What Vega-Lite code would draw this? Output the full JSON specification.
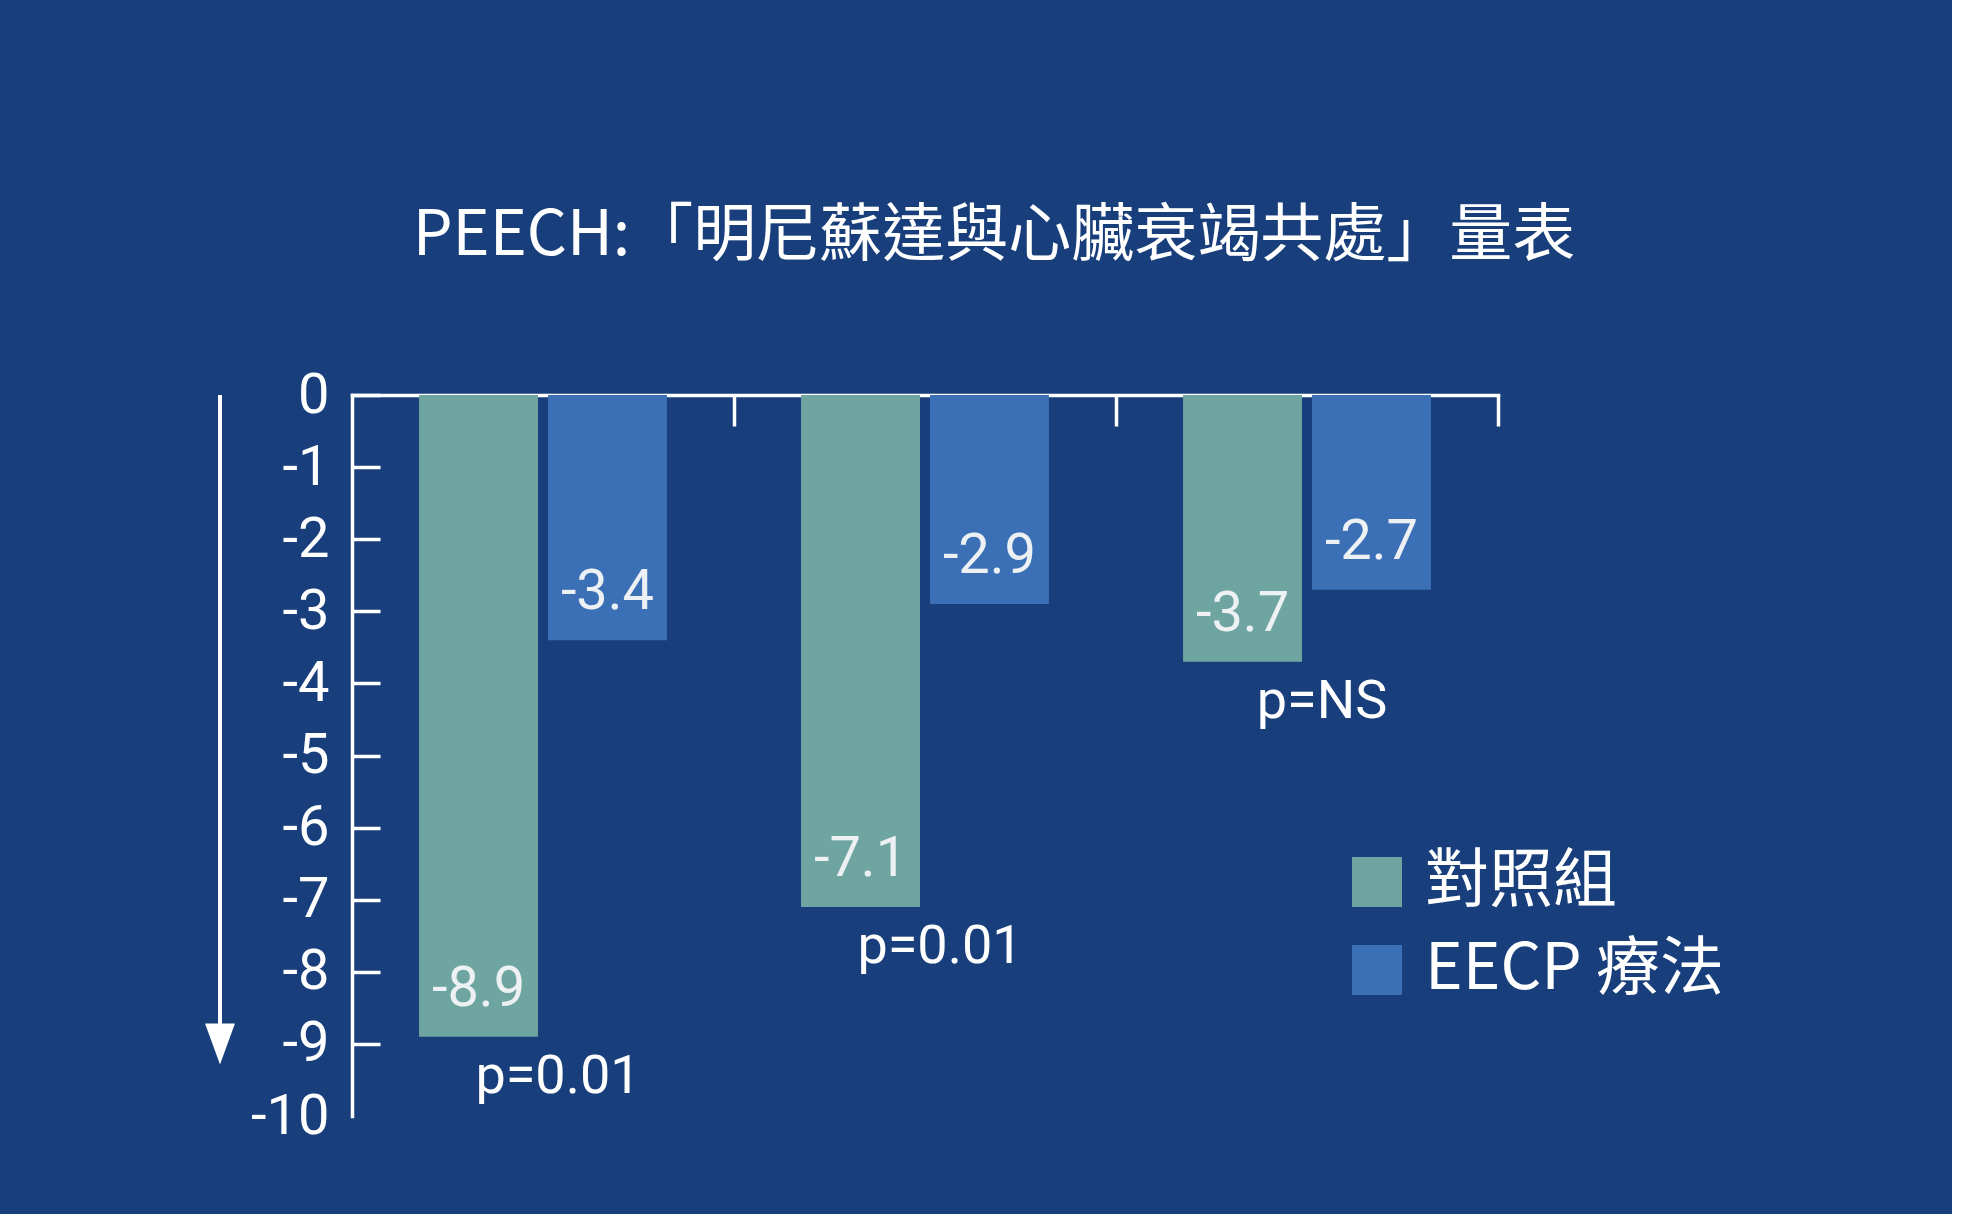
{
  "$schema": "https://vega.github.io/schema/vega-lite/v6.json",
  "background": "#183f7b",
  "padding": {"left": 205, "top": 205, "right": 227, "bottom": 73},
  "autosize": {"type": "pad"},
  "title": {
    "text": "PEECH:「明尼蘇達與心臟衰竭共處」量表",
    "font": "Noto Sans CJK TC",
    "fontSize": 63,
    "fontWeight": "normal",
    "color": "#ffffff",
    "anchor": "middle",
    "baseline": "alphabetic",
    "offset": 49,
    "dx": 29
  },
  "datasets": {
    "bars": [
      {"group": "A", "series": "對照組", "value": -8.9, "p": "p=0.01"},
      {"group": "A", "series": "EECP 療法", "value": -3.4, "p": "p=0.01"},
      {"group": "B", "series": "對照組", "value": -7.1, "p": "p=0.01"},
      {"group": "B", "series": "EECP 療法", "value": -2.9, "p": "p=0.01"},
      {"group": "C", "series": "對照組", "value": -3.7, "p": "p=NS"},
      {"group": "C", "series": "EECP 療法", "value": -2.7, "p": "p=NS"}
    ],
    "arrow": [{"pos": "a", "start": 0, "end": -9}]
  },
  "spacing": 117,
  "bounds": "flush",
  "resolve": {"scale": {"color": "independent"}, "legend": {"color": "independent"}},
  "hconcat": [
    {
      "width": 30,
      "height": 721,
      "data": {"name": "arrow"},
      "layer": [
        {
          "mark": {"type": "rule", "color": "#ffffff", "strokeWidth": 4},
          "encoding": {
            "x": {"field": "pos", "type": "nominal", "axis": null, "scale": {"paddingInner": 0, "paddingOuter": 0}},
            "y": {"field": "start", "type": "quantitative", "axis": null, "scale": {"domain": [-10, 0], "nice": false, "zero": false}},
            "y2": {"field": "end"}
          }
        },
        {
          "mark": {"type": "point", "shape": "M-0.73,-1L0.73,-1L0,1Z", "filled": true, "color": "#ffffff", "opacity": 1, "size": 1681, "strokeWidth": 0},
          "encoding": {
            "x": {"field": "pos", "type": "nominal", "axis": null},
            "y": {"field": "end", "type": "quantitative", "axis": null}
          }
        }
      ]
    },
    {
      "width": 1146,
      "height": 721,
      "data": {"name": "bars"},
      "encoding": {
        "x": {
          "field": "group",
          "type": "nominal",
          "scale": {"paddingInner": 0, "paddingOuter": 0},
          "axis": {
            "orient": "top",
            "labels": false,
            "title": null,
            "grid": false,
            "domainColor": "#ffffff",
            "domainWidth": 3.5,
            "domainCap": "square",
            "tickColor": "#ffffff",
            "tickWidth": 3.5,
            "tickSize": -31,
            "bandPosition": 1
          }
        },
        "y": {
          "field": "value",
          "type": "quantitative",
          "stack": null,
          "scale": {"domain": [-10, 0], "nice": false, "zero": false},
          "axis": {
            "orient": "left",
            "values": [0, -1, -2, -3, -4, -5, -6, -7, -8, -9, -10],
            "labelExpr": "'' + datum.value",
            "labelFont": "Roboto",
            "labelFontSize": 56,
            "labelColor": "#ffffff",
            "labelPadding": 51,
            "labelAlign": "right",
            "labelBaseline": "middle",
            "tickSize": -28,
            "tickWidth": 3.5,
            "tickColor": "#ffffff",
            "tickOpacity": {"condition": {"test": "datum.value === -10", "value": 0}, "value": 1},
            "domainColor": "#ffffff",
            "domainWidth": 3.5,
            "domainCap": "square",
            "title": null,
            "grid": false
          }
        }
      },
      "layer": [
        {
          "mark": {"type": "bar"},
          "encoding": {
            "xOffset": {"field": "series", "type": "nominal", "scale": {"domain": ["對照組", "EECP 療法"], "paddingInner": 0.078, "paddingOuter": 0.52}},
            "color": {
              "field": "series",
              "type": "nominal",
              "scale": {"domain": ["對照組", "EECP 療法"], "range": ["#6fa5a1", "#3b70b6"]},
              "legend": {
                "orient": "none",
                "legendX": 993,
                "legendY": 455,
                "title": null,
                "padding": 0,
                "labelFont": "Noto Sans CJK TC",
                "labelFontSize": 64,
                "labelColor": "#ffffff",
                "labelLimit": 600,
                "labelOffset": 16,
                "rowPadding": 24,
                "symbolType": "square",
                "symbolSize": 2500,
                "symbolStrokeWidth": 0,
                "symbolOpacity": 1
              }
            }
          }
        },
        {
          "mark": {"type": "text", "dy": -48, "font": "Roboto", "fontSize": 56, "color": "#edf1f4", "baseline": "middle", "align": "center"},
          "encoding": {
            "xOffset": {"field": "series", "type": "nominal"},
            "text": {"field": "value", "type": "nominal"}
          }
        },
        {
          "transform": [{"filter": "datum.series === '對照組'"}],
          "mark": {"type": "text", "dy": 40, "dx": 15, "font": "Roboto", "fontSize": 54, "color": "#ffffff", "baseline": "middle", "align": "center"},
          "encoding": {
            "text": {"field": "p", "type": "nominal"}
          }
        }
      ]
    }
  ],
  "config": {"view": {"stroke": null}, "axis": {"grid": false}}
}
